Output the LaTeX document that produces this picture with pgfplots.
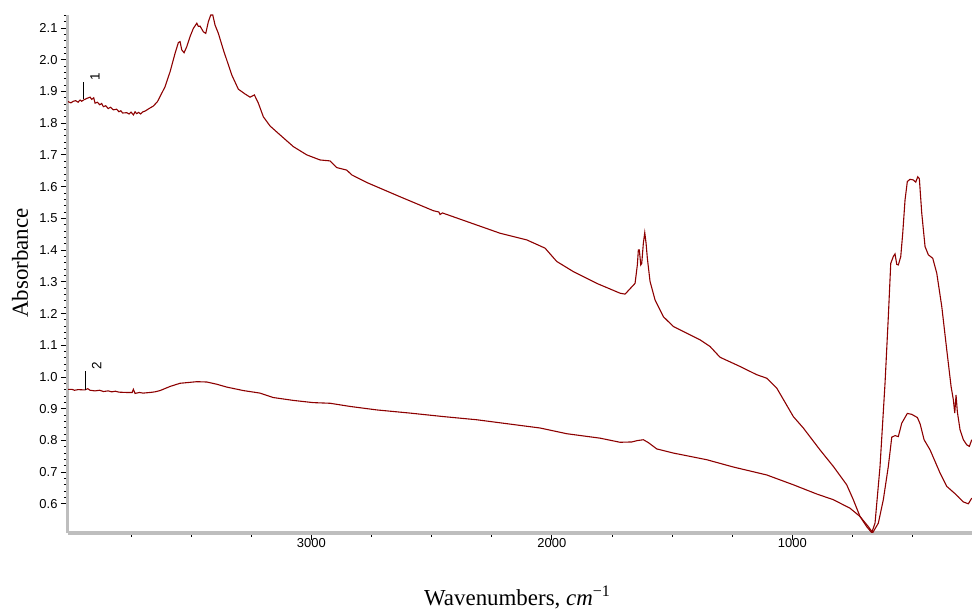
\documentclass[border=0pt]{standalone}
\usepackage{fontspec}
\setmainfont{Liberation Serif}
\setsansfont{Liberation Sans}
\usepackage{pgfplots}
\pgfplotsset{compat=1.18}
\definecolor{spec}{RGB}{140,0,0}
\definecolor{axgray}{RGB}{190,190,190}
\begin{document}
\begin{tikzpicture}
\begin{axis}[
  scale only axis, width=904bp, height=518bp,
  x dir=reverse, xmin=253, xmax=4012, ymin=0.508, ymax=2.141,
  axis x line=bottom, axis y line=left,
  axis line style={-, axgray, line width=3bp},
  every tick/.style={black, line width=0.8bp},
  tick align=outside,
  major tick length=7bp, minor tick length=4bp,
  xtick={1000,2000,3000},
  minor xtick={500,750,1250,1500,1750,2250,2500,2750,3250,3500,3750},
  ytick={0.6,0.7,...,2.15},
  minor y tick num=4,
  /pgf/number format/assume math mode=true,
  xticklabel style={font=\sffamily\fontsize{13}{14}\selectfont, yshift=5bp, /pgf/number format/1000 sep={}},
  yticklabel style={font=\sffamily\fontsize{13}{14}\selectfont, /pgf/number format/.cd, fixed, fixed zerofill, precision=1},
  xlabel={Wavenumbers, \textit{cm}\textsuperscript{−1}},
  ylabel={Absorbance},
  xlabel style={font=\fontsize{23}{26}\selectfont, at={(axis description cs:0.497,-0.1236)}, anchor=center},
  ylabel style={font=\fontsize{23}{26}\selectfont, at={(axis description cs:-0.053,0.521)}, anchor=center, rotate=0},
]
\coordinate (sw) at (rel axis cs:0,0);
\coordinate (ne) at (rel axis cs:1,1);
% curve 1
\addplot[spec, line width=1.1bp] coordinates {
(4011.7,1.868) (4000,1.864) (3990,1.869) (3980,1.871) (3970,1.866) (3961.8,1.873) (3955,1.869) (3945,1.874) (3933.9,1.878) (3920,1.882) (3913.1,1.875)
(3905,1.880) (3899.4,1.863) (3890,1.866) (3880,1.858) (3872,1.862) (3864.9,1.852) (3855,1.855) (3845,1.846) (3835,1.850) (3823.3,1.842) (3810,1.844) (3800,1.836) (3792,1.839) (3785,1.832) (3767.6,1.833)
(3758,1.829) (3750,1.835) (3740,1.826) (3733,1.836) (3726.2,1.830) (3718,1.834) (3710,1.829) (3700,1.836) (3691.5,1.838) (3675,1.846) (3657,1.854) (3640,1.868) (3629.1,1.884)
(3608.3,1.915) (3587.5,1.962) (3566.8,2.020) (3553.0,2.054) (3546.0,2.057) (3538.9,2.031) (3529.3,2.022)
(3518.1,2.041) (3504.4,2.073) (3490.6,2.099) (3476.5,2.115) (3470,2.105) (3462.8,2.106) (3449.1,2.088) (3439.1,2.083)
(3428.3,2.120) (3418.3,2.141) (3410.0,2.141) (3400.4,2.109) (3386.7,2.083) (3365.9,2.031) (3351.8,1.999)
(3331.0,1.952) (3303.6,1.907) (3275.7,1.892) (3254.9,1.882) (3237.0,1.889) (3220.4,1.863) (3199.6,1.820)
(3171.7,1.791) (3130.2,1.763) (3074.8,1.726) (3019.1,1.700) (2963.8,1.684) (2922.3,1.681) (2894.4,1.660)
(2852.8,1.652) (2832.1,1.637) (2769.7,1.613) (2631.2,1.568) (2492.8,1.524) (2470,1.520) (2465,1.512) (2455,1.517) (2353.9,1.490) (2215.4,1.453)
(2104.4,1.432) (2028.3,1.406) (1979.7,1.364) (1910.6,1.332) (1813.4,1.295) (1716.5,1.264) (1695.6,1.261)
(1654.0,1.295) (1644.5,1.353) (1640.3,1.400) (1636.2,1.400) (1630.3,1.353) (1626.2,1.358) (1619.5,1.422)
(1613.7,1.455) (1608.3,1.422) (1602.9,1.374) (1591.7,1.301) (1571.0,1.243) (1536.4,1.190) (1494.8,1.159)
(1439.1,1.138) (1383.8,1.117) (1342.3,1.096) (1300.7,1.062) (1217.6,1.033) (1148.1,1.007) (1106.6,0.996)
(1065.0,0.965) (995.9,0.875) (954.4,0.839) (885.0,0.770) (829.7,0.718) (774.0,0.660) (746.5,0.613)
(718.6,0.560) (690.8,0.528) (670.0,0.509) (656.2,0.539) (642.5,0.657) (635.4,0.718) (614.6,0.980)
(600.9,1.190) (590.8,1.358) (580.0,1.380) (573.0,1.388) (565.9,1.355) (559.3,1.353) (549.3,1.379)
(541.0,1.453) (531.4,1.558) (521.9,1.616) (510.6,1.623) (496.9,1.621) (486.9,1.614) (478.6,1.631)
(471.9,1.625) (461.9,1.516) (448.2,1.411) (434.5,1.385) (416.2,1.374) (399.5,1.327) (378.7,1.222)
(357.9,1.085) (340.0,0.970) (330.5,0.928) (324.7,0.886) (319.3,0.943) (313.9,0.890) (302.6,0.833)
(289.0,0.802) (274.8,0.786) (264.0,0.781) (254.0,0.802)
};
% curve 2
\addplot[spec, line width=1.1bp] coordinates {
(4011.7,0.961) (3996.3,0.961) (3985,0.958) (3970,0.960) (3941.0,0.959) (3930,0.963) (3920,0.958) (3900,0.956) (3880,0.958) (3864.9,0.954) (3845,0.956) (3830,0.953) (3815,0.955) (3800,0.952)
(3767.6,0.951) (3745,0.951) (3740.2,0.961) (3733.1,0.948) (3715,0.951) (3700,0.949) (3670.7,0.951) (3650,0.953) (3629.1,0.957)
(3587.5,0.970) (3546.0,0.980) (3476.5,0.985) (3434.9,0.984) (3393.4,0.977) (3351.8,0.968) (3282.7,0.957)
(3213.3,0.949) (3158.0,0.935) (3074.8,0.926) (2991.7,0.919) (2922.3,0.917) (2839.1,0.907) (2728.1,0.896)
(2589.6,0.886) (2451.2,0.875) (2312.3,0.865) (2180.9,0.852) (2049.1,0.839) (1938.1,0.821) (1799.6,0.807)
(1716.5,0.794) (1667.8,0.795) (1647.0,0.799) (1619.5,0.802) (1598.7,0.793) (1563.8,0.773) (1494.8,0.760)
(1355.9,0.739) (1245.4,0.716) (1106.6,0.691) (995.9,0.660) (898.7,0.631) (829.7,0.613) (760.0,0.586)
(718.6,0.560) (684.0,0.528) (665.8,0.509) (642.5,0.539) (621.7,0.613) (600.9,0.718) (586.6,0.810)
(573.0,0.815) (559.3,0.812) (545.2,0.854) (521.9,0.885) (503.4,0.882) (480.1,0.872) (468.8,0.852)
(452.2,0.802) (427.3,0.770) (385.8,0.697) (357.9,0.655) (323.6,0.632) (309.9,0.622) (289.0,0.606)
(268.2,0.600) (254.0,0.618)
};
% markers
\draw[black, line width=0.7bp] (axis cs:3950,1.876) -- (axis cs:3950,1.930);
\node[rotate=90, font=\sffamily\fontsize{13.5}{14}\selectfont, inner sep=0pt] at (axis cs:3900,1.945) {1};
\draw[black, line width=0.7bp] (axis cs:3941,0.959) -- (axis cs:3941,1.019);
\node[rotate=90, font=\sffamily\fontsize{13.5}{14}\selectfont, inner sep=0pt] at (axis cs:3893,1.035) {2};
\end{axis}
\pgfresetboundingbox
\path ([shift={(-68bp,-77bp)}]sw) rectangle ([shift={(0bp,15bp)}]ne);
\end{tikzpicture}
\end{document}
